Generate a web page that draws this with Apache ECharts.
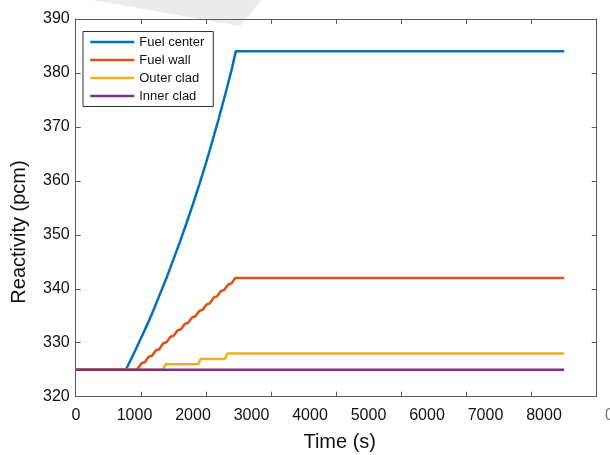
<!DOCTYPE html>
<html>
<head>
<meta charset="utf-8">
<style>
  html, body { margin: 0; padding: 0; background: #fff; }
  #chart { width: 610px; height: 455px; }
</style>
<script src="https://cdn.jsdelivr.net/npm/echarts@6/dist/echarts.min.js"></script>
</head>
<body>
<div id="chart"></div>
<script>
// Reactivity response of each temperature node, time in seconds, reactivity in pcm
const seriesNames = ['Fuel center', 'Fuel wall', 'Outer clad', 'Inner clad'];
const seriesColors = ['#0072BD', '#D95319', '#EDB120', '#7E2F8E'];

const fuelCenter = [
  [0, 325], [770, 325], [900, 328.2], [1000, 330.8], [1100, 333.4], [1200, 336.2],
  [1300, 339.2], [1400, 342.2], [1500, 345.4], [1600, 348.7], [1700, 352.1],
  [1800, 355.7], [1900, 359.4], [2000, 363.3], [2100, 367.4], [2200, 371.7],
  [2300, 376.2], [2400, 380.9], [2458, 384], [7500, 384]
];

const fuelWall = [
  [0, 325], [900, 325], [950, 325.2], [1011, 326.2], [1061, 326.4], [1122, 327.4],
  [1172, 327.6], [1233, 328.6], [1283, 328.8], [1344, 329.9], [1394, 330.1],
  [1455, 331.1], [1505, 331.3], [1566, 332.3], [1616, 332.5], [1677, 333.5],
  [1727, 333.7], [1788, 334.7], [1838, 334.9], [1899, 335.9], [1949, 336.1],
  [2010, 337.1], [2060, 337.3], [2121, 338.4], [2171, 338.6], [2232, 339.6],
  [2282, 339.8], [2343, 340.8], [2393, 341.0], [2450, 342], [7500, 342]
];

const outerClad = [
  [0, 325], [1340, 325], [1380, 326], [1880, 326], [1920, 327],
  [2290, 327], [2330, 328], [7500, 328]
];

const innerClad = [[0, 325], [7500, 325]];

const xTickLabels = [0, 1000, 2000, 3000, 4000, 5000, 6000, 7000, 8000];
const yRange = [320, 390];

const font = '"Liberation Sans", Arial, Helvetica, sans-serif';
const axisGray = '#5a5a5a';
const textColor = '#111';

const chart = echarts.init(document.getElementById('chart'), null, { renderer: 'canvas' });

const boxAxis = (position, showLabel) => ({
  type: 'value',
  position: position,
  min: 0,
  max: 8000,
  interval: 1000,
  axisLine: { show: true, onZero: false, lineStyle: { color: axisGray, width: 1 } },
  axisTick: { show: true, inside: true, length: 5, lineStyle: { color: axisGray } },
  axisLabel: { show: showLabel },
  splitLine: { show: false }
});

const yBoxAxis = (position, showLabel) => ({
  type: 'value',
  position: position,
  min: yRange[0],
  max: yRange[1],
  interval: 10,
  axisLine: { show: true, onZero: false, lineStyle: { color: axisGray, width: 1 } },
  axisTick: { show: true, inside: true, length: 5, lineStyle: { color: axisGray } },
  axisLabel: {
    show: showLabel, margin: 6, fontSize: 16, fontFamily: font, color: textColor
  },
  splitLine: { show: false }
});

const makeSeries = (name, data, color) => ({
  name: name,
  type: 'line',
  xAxisIndex: 0,
  yAxisIndex: 0,
  data: data,
  symbol: 'none',
  showSymbol: false,
  animation: false,
  lineStyle: { color: color, width: 2.5 },
  itemStyle: { color: color }
});

const option = {
  backgroundColor: '#fff',
  animation: false,
  grid: { left: 75.7, top: 19, right: 13.3, bottom: 58.3 },
  xAxis: [
    boxAxis('bottom', false),
    boxAxis('top', false),
    {
      // tick labels of the time axis
      type: 'value',
      position: 'bottom',
      min: -5,
      max: 8901,
      axisLine: { show: false },
      axisTick: { show: false },
      splitLine: { show: false },
      axisLabel: {
        show: true,
        customValues: xTickLabels,
        formatter: (v) => String(v),
        margin: 11,
        fontSize: 16,
        fontFamily: font,
        color: textColor
      }
    }
  ],
  yAxis: [
    yBoxAxis('left', true),
    yBoxAxis('right', false)
  ],
  legend: {
    left: 83,
    top: 31.5,
    orient: 'vertical',
    data: seriesNames,
    itemWidth: 44,
    itemHeight: 14,
    itemGap: 5,
    padding: [4, 9, 4, 6],
    borderColor: '#333',
    borderWidth: 1,
    backgroundColor: '#fff',
    itemStyle: { opacity: 0 },
    lineStyle: { width: 2.5 },
    textStyle: { fontSize: 13, fontFamily: font, color: textColor }
  },
  graphic: [
    {
      type: 'polygon',
      z: -10,
      silent: true,
      shape: { points: [[92, 0], [262, 0], [240, 26]] },
      style: { fill: '#ececec' }
    },
    {
      type: 'text',
      x: 339.7,
      y: 442,
      style: {
        text: 'Time (s)', fontSize: 20, fontFamily: font, fill: textColor,
        align: 'center', verticalAlign: 'middle'
      }
    },
    {
      type: 'text',
      x: 19,
      y: 232,
      rotation: Math.PI / 2,
      style: {
        text: 'Reactivity (pcm)', fontSize: 20, fontFamily: font, fill: textColor,
        align: 'center', verticalAlign: 'middle'
      }
    },
    {
      type: 'text',
      x: 605,
      y: 415.5,
      style: {
        text: '0', fontSize: 16, fontFamily: font, fill: '#777',
        align: 'left', verticalAlign: 'middle'
      }
    }
  ],
  series: [
    makeSeries(seriesNames[0], fuelCenter, seriesColors[0]),
    makeSeries(seriesNames[1], fuelWall, seriesColors[1]),
    makeSeries(seriesNames[2], outerClad, seriesColors[2]),
    makeSeries(seriesNames[3], innerClad, seriesColors[3])
  ]
};

chart.setOption(option);
</script>
</body>
</html>
